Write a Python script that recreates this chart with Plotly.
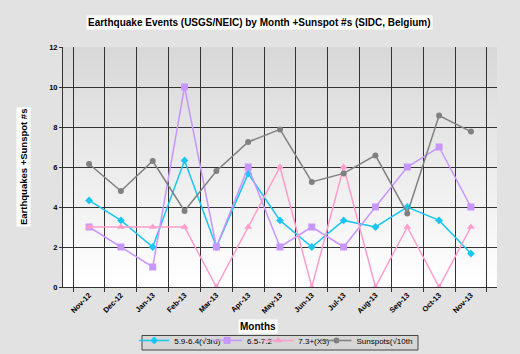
import plotly.graph_objects as go

months = ["Nov-12", "Dec-12", "Jan-13", "Feb-13", "Mar-13", "Apr-13", "May-13",
          "Jun-13", "Jul-13", "Aug-13", "Sep-13", "Oct-13", "Nov-13"]
m59_64 = [4.33, 3.33, 2.0, 6.33, 2.0, 5.67, 3.33, 2.0, 3.33, 3.0, 4.0, 3.33, 1.67]
m65_72 = [3, 2, 1, 10, 2, 6, 2, 3, 2, 4, 6, 7, 4]
m73p = [3, 3, 3, 3, 0, 3, 6, 0, 6, 0, 3, 0, 3]
sunspots = [6.15, 4.8, 6.3, 3.8, 5.8, 7.25, 7.88, 5.25, 5.68, 6.58, 3.68, 8.57, 7.77]

names = ["5.9-6.4(√3rd)", "6.5-7.2", "7.3+(X3)", "Sunspots(√10th"]
colors = ["#19c6f2", "#c896ff", "#ff9ccc", "#808080"]
symbols = ["diamond", "square", "triangle-up", "circle"]
sizes = [6, 7, 7, 6]
series = [m59_64, m65_72, m73p, sunspots]
legend_ids = ["legend", "legend2", "legend3", "legend4"]
legend_x = [0.164, 0.332, 0.450, 0.584]

FONT = "Arial, Liberation Sans, sans-serif"

fig = go.Figure()
for name, vals, c, s, sz, lg in zip(names, series, colors, symbols, sizes, legend_ids):
    fig.add_trace(go.Scatter(
        x=months, y=vals, name=name, mode="lines+markers",
        line=dict(color=c, width=1.5),
        marker=dict(color=c, symbol=s, size=sz, line=dict(width=0)),
        legend=lg,
    ))

# gradient plot background (grey at top -> white at bottom)
shapes = []
N = 40
for i in range(N):
    t = i / (N - 1)
    v = int(round(0xd8 + (0xff - 0xd8) * t))
    col = f"rgb({v},{v},{v})"
    shapes.append(dict(type="rect", xref="x domain", yref="y domain",
                       x0=0, x1=1, y0=1 - (i + 1) / N, y1=1 - i / N,
                       fillcolor=col, line=dict(width=0), layer="below"))
# legend frame
shapes.append(dict(type="rect", xref="paper", yref="paper",
                   x0=0.182, x1=0.818, y0=-0.2625, y1=-0.202,
                   fillcolor="#d6d6d6", line=dict(color="#444444", width=1),
                   layer="above"))

legend_style = dict(orientation="h", xanchor="left", y=-0.162, yanchor="top",
                    bgcolor="rgba(0,0,0,0)", borderwidth=0,
                    font=dict(size=8, family=FONT, color="#000"))

layout_legends = {}
for lg, lx in zip(legend_ids, legend_x):
    layout_legends[lg] = dict(legend_style, x=lx)

fig.update_layout(
    width=520, height=354,
    margin=dict(l=63, r=23, t=47, b=67, autoexpand=False),
    paper_bgcolor="#e2e2e2",
    plot_bgcolor="rgba(0,0,0,0)",
    font=dict(family=FONT, color="#000000"),
    shapes=shapes,
    showlegend=True,
    annotations=[
        dict(text="<b>Earthquake Events (USGS/NEIC) by Month +Sunspot #s (SIDC, Belgium)</b>",
             xref="paper", yref="paper", x=0.452, xanchor="center", y=1.0,
             yanchor="middle", yshift=25, showarrow=False,
             font=dict(size=10, family=FONT), bgcolor="#ffffff"),
        dict(text="<b>Earthquakes +Sunspot #s</b>", xref="paper", yref="paper",
             x=0, xanchor="center", xshift=-40, y=0.5, yanchor="middle",
             textangle=-90, showarrow=False,
             font=dict(size=9.5, family=FONT), bgcolor="#ffffff"),
        dict(text="<b>Months</b>", xref="paper", yref="paper", x=0.449,
             xanchor="center", y=0, yanchor="middle",
             yshift=-39, showarrow=False, font=dict(size=10, family=FONT),
             bgcolor="#ffffff"),
    ],
    **layout_legends,
)

fig.update_xaxes(
    type="category", tickson="boundaries", ticks="outside", ticklen=4,
    tickcolor="#333", showgrid=True, gridcolor="#333333", gridwidth=1,
    showline=True, linecolor="#333333", linewidth=1, mirror=False,
    tickangle=-45, tickfont=dict(size=7.5, family=FONT, color="#000"),
    tickprefix="<b>", ticksuffix="</b>",
)
fig.update_yaxes(
    range=[0, 12], dtick=2, ticks="outside", ticklen=3, tickcolor="#333",
    showgrid=True, gridcolor="#333333", gridwidth=1, zeroline=False,
    showline=True, linecolor="#333333", linewidth=1,
    tickfont=dict(size=7.5, family=FONT, color="#000"),
    tickprefix="<b>", ticksuffix="</b>",
)

fig.write_html("out.html")
